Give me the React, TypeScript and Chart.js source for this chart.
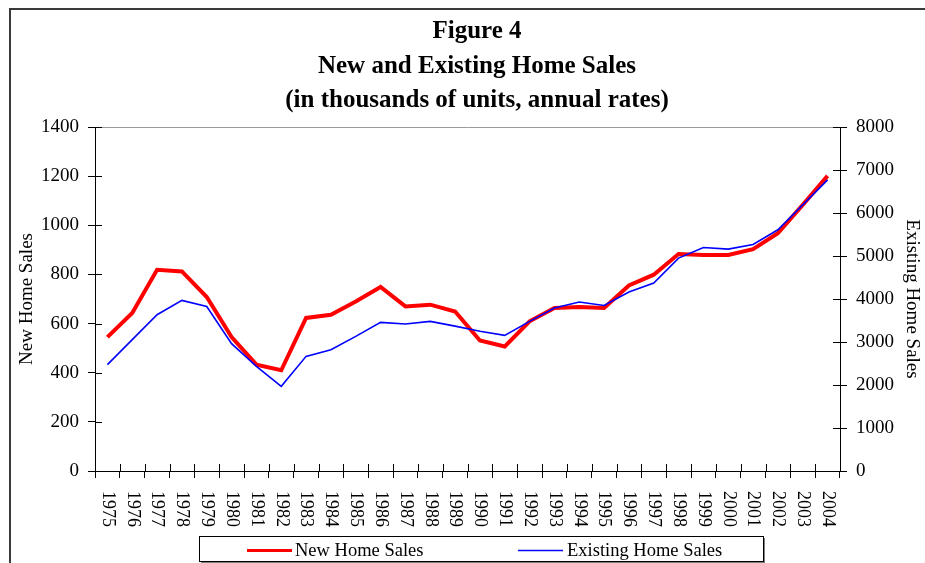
import React, { useEffect, useRef } from "react";
import { Chart, registerables } from "chart.js";

Chart.register(...registerables);

const SERIF = '"Liberation Serif", "Times New Roman", serif';

const titleLines = [
  "Figure 4",
  "New and Existing Home Sales",
  "(in thousands of units, annual rates)",
];

const years = [
  "1975", "1976", "1977", "1978", "1979", "1980", "1981", "1982", "1983", "1984",
  "1985", "1986", "1987", "1988", "1989", "1990", "1991", "1992", "1993", "1994",
  "1995", "1996", "1997", "1998", "1999", "2000", "2001", "2002", "2003", "2004",
];

const newHomeSales = [
  545, 643, 819, 812, 708, 545, 433, 410, 623, 636,
  690, 749, 670, 677, 649, 531, 507, 609, 663, 667,
  663, 755, 799, 883, 879, 879, 903, 968, 1083, 1201,
];

const existingHomeSales = [
  2473, 3054, 3634, 3967, 3827, 2961, 2434, 1969, 2666, 2822,
  3130, 3456, 3418, 3479, 3370, 3250, 3154, 3479, 3790, 3929,
  3850, 4162, 4371, 4951, 5197, 5160, 5267, 5609, 6189, 6770,
];

const seriesNames = ["New Home Sales", "Existing Home Sales"];
const leftAxisRange = [0, 1400, 200];
const rightAxisRange = [0, 8000, 1000];

const decorPlugin = {
  id: "decor",
  beforeDraw(chart: any) {
    const ctx = chart.ctx;
    ctx.save();
    ctx.fillStyle = "#ffffff";
    ctx.fillRect(0, 0, chart.width, chart.height);
    // outer frame
    ctx.strokeStyle = "#3a3a3a";
    ctx.lineWidth = 2;
    ctx.beginPath();
    ctx.moveTo(10, chart.height);
    ctx.lineTo(10, 9);
    ctx.lineTo(chart.width, 9);
    ctx.stroke();
    // title
    ctx.fillStyle = "#000";
    ctx.font = `bold 25px ${SERIF}`;
    ctx.textAlign = "center";
    ctx.textBaseline = "alphabetic";
    const baselines = [38, 73, 107];
    titleLines.forEach((t, i) => ctx.fillText(t, 477, baselines[i]));
    ctx.restore();
  },
  afterDraw(chart: any) {
    const { ctx, chartArea, scales } = chart;
    const { left, right, top, bottom } = chartArea;
    const x = scales.x;
    const yl = scales.yNew;
    const yr = scales.yExisting;
    const seg = (x1: number, y1: number, x2: number, y2: number) => {
      ctx.beginPath();
      ctx.moveTo(x1, y1);
      ctx.lineTo(x2, y2);
      ctx.stroke();
    };
    ctx.save();
    // top border of plot area
    ctx.strokeStyle = "#9a9a9a";
    ctx.lineWidth = 1;
    seg(left, Math.round(top) + 0.5, right, Math.round(top) + 0.5);
    // inward halves of cross tick marks
    ctx.strokeStyle = "#000";
    yl.ticks.forEach((t: any) => {
      const py = Math.round(yl.getPixelForValue(t.value)) + 0.5;
      seg(left, py, left + 7, py);
    });
    yr.ticks.forEach((t: any) => {
      const py = Math.round(yr.getPixelForValue(t.value)) + 0.5;
      seg(right - 7, py, right, py);
    });
    const n = chart.data.labels.length;
    for (let i = 0; i <= n; i++) {
      const px = Math.round(left + (i * (right - left)) / n) + 0.5;
      seg(px, bottom, px, bottom - 7);
    }
    // year labels, rotated clockwise
    ctx.fillStyle = "#000";
    ctx.font = `18px ${SERIF}`;
    ctx.textAlign = "left";
    ctx.textBaseline = "middle";
    chart.data.labels.forEach((lab: string, i: number) => {
      const px = x.getPixelForValue(i);
      ctx.save();
      ctx.translate(px, bottom + 20);
      ctx.rotate(Math.PI / 2);
      ctx.fillText(lab, 0, 0);
      ctx.restore();
    });
    // legend box
    ctx.strokeStyle = "#808080";
    ctx.lineWidth = 1;
    seg(764.5, 538, 764.5, 562.5);
    seg(201, 562.5, 765, 562.5);
    ctx.strokeStyle = "#000";
    ctx.strokeRect(199.5, 536.5, 564, 25);
    const items = [
      { ds: chart.data.datasets[0], x1: 247, x2: 292, tx: 295 },
      { ds: chart.data.datasets[1], x1: 518, x2: 563, tx: 567 },
    ];
    ctx.font = `18.5px ${SERIF}`;
    ctx.textAlign = "left";
    ctx.textBaseline = "alphabetic";
    items.forEach((it) => {
      ctx.strokeStyle = it.ds.borderColor;
      ctx.lineWidth = it.ds.borderWidth > 2 ? 3 : 1.5;
      seg(it.x1, 550.5, it.x2, 550.5);
      ctx.fillStyle = "#000";
      ctx.fillText(it.ds.label, it.tx, 556);
    });
    ctx.restore();
  },
};

export default function App() {
  const canvasRef = useRef<HTMLCanvasElement | null>(null);

  useEffect(() => {
    if (!canvasRef.current) return;
    const tickFont = { family: SERIF, size: 19 };
    const plain = (v: any) => String(v);
    const chart = new Chart(canvasRef.current, {
      type: "line",
      data: {
        labels: years,
        datasets: [
          {
            label: seriesNames[0],
            data: newHomeSales,
            borderColor: "#ff0000",
            backgroundColor: "#ff0000",
            borderWidth: 4,
            pointRadius: 0,
            tension: 0,
            yAxisID: "yNew",
            order: 1,
          },
          {
            label: seriesNames[1],
            data: existingHomeSales,
            borderColor: "#0000ff",
            backgroundColor: "#0000ff",
            borderWidth: 1.6,
            pointRadius: 0,
            tension: 0,
            yAxisID: "yExisting",
            order: 0,
          },
        ],
      },
      options: {
        responsive: false,
        animation: false,
        layout: { padding: { top: 127, left: 0, right: 0, bottom: 0 } },
        plugins: {
          legend: { display: false },
          title: { display: false },
          tooltip: { enabled: false },
        },
        scales: {
          x: {
            type: "category",
            offset: true,
            grid: {
              offset: true,
              drawOnChartArea: false,
              drawTicks: true,
              tickLength: 7,
              color: "#000",
            },
            border: { display: true, color: "#000", width: 1 },
            ticks: { display: false },
            afterFit: (s: any) => {
              s.height = 92;
            },
          },
          yNew: {
            type: "linear",
            position: "left",
            min: leftAxisRange[0],
            max: leftAxisRange[1],
            ticks: {
              stepSize: leftAxisRange[2],
              color: "#000",
              font: tickFont,
              padding: 9,
              callback: plain,
            },
            grid: {
              drawOnChartArea: false,
              drawTicks: true,
              tickLength: 7,
              color: "#000",
            },
            border: { display: true, color: "#000", width: 1 },
            title: {
              display: true,
              text: seriesNames[0],
              color: "#000",
              font: { family: SERIF, size: 19, lineHeight: 1.2 },
              padding: { top: 15.5, bottom: 0 },
            },
            afterFit: (s: any) => {
              s.width = 95;
            },
          },
          yExisting: {
            type: "linear",
            position: "right",
            min: rightAxisRange[0],
            max: rightAxisRange[1],
            ticks: {
              stepSize: rightAxisRange[2],
              color: "#000",
              font: tickFont,
              padding: 9,
              callback: plain,
            },
            grid: {
              drawOnChartArea: false,
              drawTicks: true,
              tickLength: 7,
              color: "#000",
            },
            border: { display: true, color: "#000", width: 1 },
            title: {
              display: true,
              text: seriesNames[1],
              color: "#000",
              font: { family: SERIF, size: 19, lineHeight: 1.2 },
              padding: { top: 1.5, bottom: 0 },
            },
            afterFit: (s: any) => {
              s.width = 85;
            },
          },
        },
      },
      plugins: [decorPlugin],
    } as any);
    return () => chart.destroy();
  }, []);

  return (
    <canvas
      ref={canvasRef}
      width={925}
      height={563}
      style={{ position: "fixed", left: 0, top: 0, width: 925, height: 563, display: "block" }}
    />
  );
}
